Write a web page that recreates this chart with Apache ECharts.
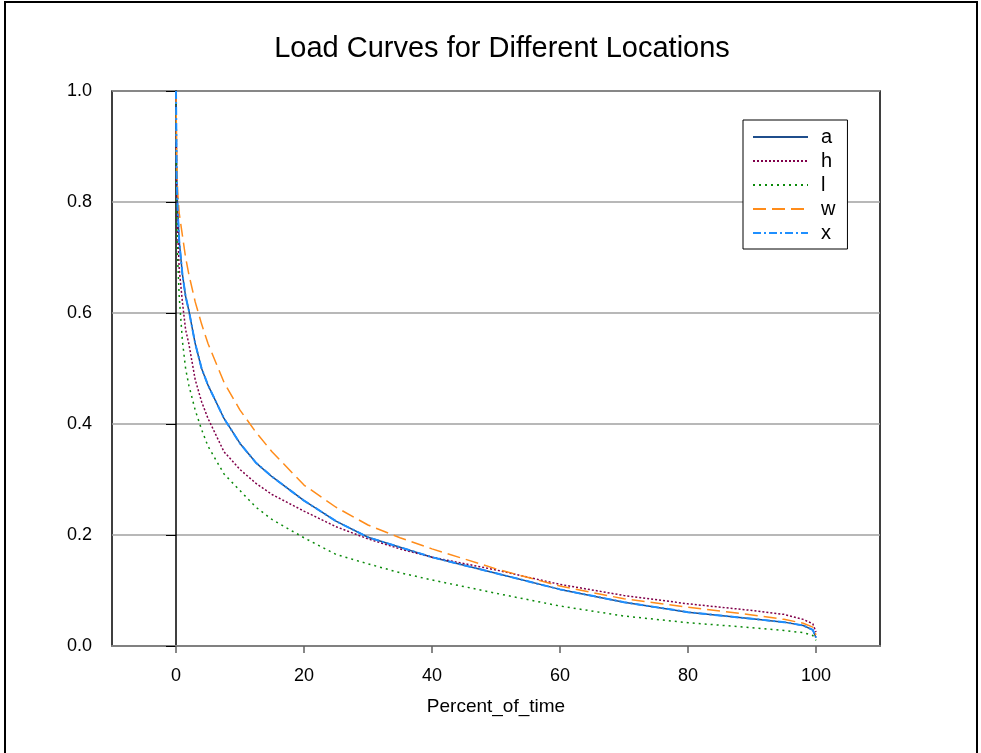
<!DOCTYPE html>
<html>
<head>
<meta charset="utf-8">
<script src="https://cdn.jsdelivr.net/npm/echarts@6/dist/echarts.min.js"></script>
<style>
html,body{margin:0;padding:0;background:#fff;}
#main{width:981px;height:753px;}
</style>
</head>
<body>
<div id="main"></div>
<script>
// Percent of time (x values)
const percentOfTime = [0, 0.1, 0.25, 0.5, 1, 1.5, 2, 3, 4, 5, 7.5, 10, 12.5, 15, 20, 25, 30, 35, 40, 50, 60, 70, 80, 90, 95, 98, 99.5, 100];
// Load values per location
const seriesA = [1.0, 0.85, 0.79, 0.73, 0.67, 0.63, 0.605, 0.545, 0.5, 0.47, 0.41, 0.365, 0.33, 0.305, 0.262, 0.225, 0.196, 0.178, 0.16, 0.131, 0.102, 0.079, 0.061, 0.049, 0.043, 0.037, 0.029, 0.015];
const seriesH = [1.0, 0.82, 0.75, 0.68, 0.62, 0.57, 0.545, 0.48, 0.44, 0.41, 0.35, 0.318, 0.293, 0.273, 0.243, 0.215, 0.193, 0.175, 0.16, 0.137, 0.111, 0.091, 0.076, 0.064, 0.057, 0.048, 0.04, 0.025];
const seriesL = [1.0, 0.76, 0.7, 0.63, 0.55, 0.5, 0.47, 0.425, 0.39, 0.36, 0.31, 0.28, 0.25, 0.228, 0.195, 0.165, 0.148, 0.132, 0.119, 0.095, 0.072, 0.054, 0.042, 0.033, 0.028, 0.024, 0.019, 0.01];
const seriesW = [1.0, 0.88, 0.82, 0.78, 0.74, 0.70, 0.67, 0.62, 0.58, 0.545, 0.475, 0.425, 0.385, 0.35, 0.29, 0.25, 0.218, 0.195, 0.175, 0.139, 0.108, 0.085, 0.07, 0.056, 0.048, 0.041, 0.034, 0.02];
const seriesX = [1.0, 0.85, 0.79, 0.73, 0.67, 0.63, 0.605, 0.545, 0.5, 0.47, 0.41, 0.365, 0.33, 0.305, 0.262, 0.225, 0.196, 0.178, 0.16, 0.131, 0.102, 0.079, 0.061, 0.049, 0.043, 0.037, 0.029, 0.015];
const seriesNames = ['a', 'h', 'l', 'w', 'x'];
const xTicks = [0, 20, 40, 60, 80, 100];

const pair = arr => percentOfTime.map((t, i) => [t, arr[i]]);
const FONT = 'Liberation Sans, Arial, sans-serif';

const styles = {
  a: {color: '#1f4e8c', width: 1.5, type: 'solid', z: 1},
  h: {color: '#80004a', width: 1.5, type: [2, 2], z: 2},
  l: {color: '#0a8a0a', width: 1.5, type: [2, 4], z: 2},
  w: {color: '#ff8c1a', width: 1.5, type: [13, 6], z: 2},
  x: {color: '#1e8fff', width: 2, type: [8, 3, 2, 3], z: 3}
};
const dataMap = {a: seriesA, h: seriesH, l: seriesL, w: seriesW, x: seriesX};

const chart = echarts.init(document.getElementById('main'), null, {renderer: 'canvas'});
chart.setOption({
  backgroundColor: '#fff',
  animation: false,
  title: {
    text: 'Load Curves for Different Locations',
    left: 497, top: 29,
    textAlign: 'center',
    textStyle: {fontFamily: FONT, fontSize: 29, fontWeight: 'normal', color: '#000'}
  },
  graphic: [{
    type: 'rect', shape: {x: 5, y: 2, width: 972, height: 770},
    style: {fill: 'none', stroke: '#000', lineWidth: 2}, silent: true
  }],
  legend: {
    orient: 'vertical',
    left: 743, top: 120,
    padding: [7, 12, 6, 9],
    itemWidth: 55, itemHeight: 14, itemGap: 4,
    borderColor: '#000', borderWidth: 1, borderRadius: 0,
    backgroundColor: '#fff',
    itemStyle: {opacity: 0},
    textStyle: {fontFamily: FONT, fontSize: 20, color: '#000', padding: [0, 0, 0, 8]},
    data: seriesNames
  },
  grid: {
    left: 112, top: 91, width: 768, height: 555,
    show: true, borderColor: '#000', borderWidth: 1.5, backgroundColor: '#fff'
  },
  xAxis: {
    type: 'value', min: -10, max: 110,
    name: 'Percent_of_time', nameLocation: 'middle', nameGap: 51,
    nameTextStyle: {fontFamily: FONT, fontSize: 19, color: '#000'},
    axisLine: {show: true, onZero: false, lineStyle: {color: '#808080', width: 2}},
    axisTick: {show: true, length: 7, lineStyle: {color: '#606060', width: 1.5}, customValues: xTicks},
    axisLabel: {fontFamily: FONT, fontSize: 18, color: '#000', margin: 21, customValues: xTicks},
    splitLine: {show: false}
  },
  yAxis: {
    type: 'value', min: 0, max: 1, interval: 0.2,
    axisLine: {show: true, lineStyle: {color: '#000', width: 1.5}},
    axisTick: {show: true, length: 10, lineStyle: {color: '#000', width: 1}},
    axisLabel: {fontFamily: FONT, fontSize: 18, color: '#000', margin: 20, formatter: v => v.toFixed(1)},
    splitLine: {show: true, lineStyle: {color: '#a0a0a0', width: 1.5}}
  },
  series: seriesNames.map(n => ({
    name: n,
    type: 'line',
    data: pair(dataMap[n]),
    showSymbol: false,
    symbol: 'none',
    smooth: false,
    z: styles[n].z,
    color: styles[n].color,
    itemStyle: {color: styles[n].color},
    lineStyle: {color: styles[n].color, width: styles[n].width, type: styles[n].type}
  }))
});
</script>
</body>
</html>
